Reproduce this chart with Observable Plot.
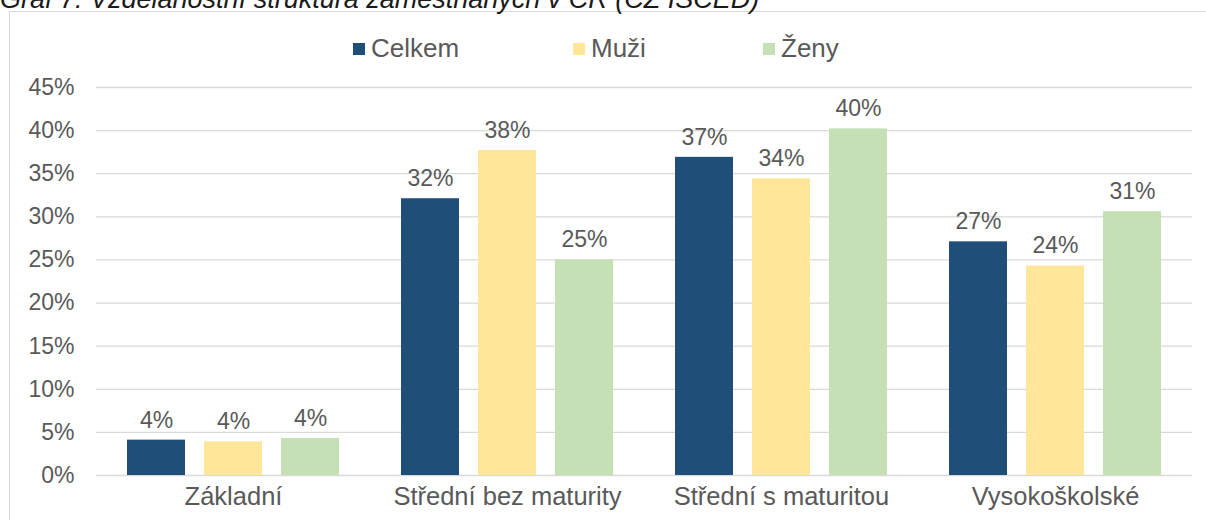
<!DOCTYPE html>
<html>
<head>
<meta charset="utf-8">
<script src="https://cdn.jsdelivr.net/npm/d3@7"></script>
<script src="https://cdn.jsdelivr.net/npm/@observablehq/plot@0.6"></script>
<style>
  html, body { margin: 0; padding: 0; background: #fff; }
  #wrap { position: relative; width: 1206px; height: 520px; overflow: hidden; font-family: "Liberation Sans", Arial, sans-serif; }
  #frame { position: absolute; left: 9px; top: 11px; width: 1210px; height: 520px; border: 1px solid #d9d9d9; box-sizing: border-box; }
  #title { position: absolute; left: 0px; top: -16px; font-size: 27px; line-height: 31px; font-style: italic; color: #1a1a1a; white-space: nowrap; }
  #chart { position: absolute; left: 0; top: 0; }
  #chart svg g[aria-label="fx-axis tick label"] { font-size: 25.5px; }
  .leg { position: absolute; top: 33px; font-size: 26px; color: #595959; display: flex; align-items: center; white-space: nowrap; }
  .leg span.sw { display: inline-block; width: 12px; height: 12px; margin-right: 6px; }
</style>
</head>
<body>
<div id="wrap">
  <div id="frame"></div>
  <div id="title">Graf 7: Vzdělanostní struktura zaměstnaných v ČR (CZ ISCED)</div>
  <div id="chart"></div>
</div>
<script>
const categories = ["Základní", "Střední bez maturity", "Střední s maturitou", "Vysokoškolské"];
const series = ["Celkem", "Muži", "Ženy"];
const colors = ["#1F4E79", "#FFE699", "#C5E0B4"];
const celkem = [4.1, 32.1, 36.9, 27.1];
const muzi = [3.9, 37.7, 34.4, 24.3];
const zeny = [4.3, 25.0, 40.2, 30.6];
const yTicks = [0, 5, 10, 15, 20, 25, 30, 35, 40, 45];
const legendX = [353, 573, 763];

const values = [celkem, muzi, zeny];
const data = [];
categories.forEach((c, i) => {
  series.forEach((s, j) => data.push({category: c, series: s, value: values[j][i]}));
});

const plot = Plot.plot({
  width: 1206,
  height: 520,
  marginLeft: 95,
  marginRight: 13,
  marginTop: 87,
  marginBottom: 45,
  style: {fontFamily: "'Liberation Sans', Arial, sans-serif", fontSize: "23px", color: "#595959", background: "transparent"},
  fx: {domain: categories, padding: 0, label: null, axis: "bottom", tickSize: 0, tickPadding: 11},
  x: {domain: series, paddingInner: 0.244, paddingOuter: 0.385, axis: null},
  y: {domain: [0, 45], ticks: yTicks, tickFormat: d => d + "%", tickSize: 0, tickPadding: 22, label: null},
  color: {domain: series, range: colors},
  marks: [
    Plot.ruleY(yTicks, {stroke: "#d9d9d9", strokeWidth: 1.3}),
    Plot.barY(data, {fx: "category", x: "series", y: "value", fill: "series"}),
    Plot.text(data, {fx: "category", x: "series", y: "value", text: d => Math.round(d.value) + "%", dy: -20, fill: "#595959", fontSize: 23})
  ]
});
document.getElementById("chart").appendChild(plot);

const wrap = document.getElementById("wrap");
series.forEach((s, j) => {
  const d = document.createElement("div");
  d.className = "leg";
  d.style.left = legendX[j] + "px";
  d.innerHTML = `<span class="sw" style="background:${colors[j]}"></span>${s}`;
  wrap.appendChild(d);
});
</script>
</body>
</html>
